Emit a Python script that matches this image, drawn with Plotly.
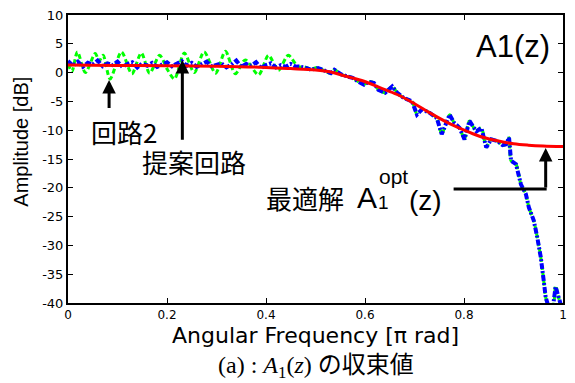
import plotly.graph_objects as go

# ---- data ----
opt_freq = [0.0, 0.1, 0.2, 0.3, 0.4, 0.45, 0.5, 0.531, 0.56, 0.598, 0.63, 0.665, 0.7, 0.731, 0.765, 0.798, 0.83, 0.865, 0.9, 0.93, 0.96, 1.0]
opt_amp = [1.3, 1.25, 1.2, 1.1, 0.9, 0.7, 0.45, 0.1, -0.6, -1.5, -2.6, -3.8, -5.4, -7.0, -8.6, -9.9, -11.0, -11.8, -12.35, -12.6, -12.75, -12.85]

c2_freq = [0.0, 0.008, 0.019, 0.035, 0.055, 0.063, 0.071, 0.085, 0.108, 0.129, 0.148, 0.165, 0.185, 0.201, 0.215, 0.235, 0.255, 0.275, 0.298, 0.318, 0.338, 0.358, 0.385, 0.405, 0.425, 0.445, 0.465,
           0.478, 0.491, 0.505, 0.518, 0.531, 0.538, 0.552, 0.565, 0.575, 0.585, 0.598, 0.608, 0.618, 0.627, 0.641, 0.655, 0.665, 0.678, 0.695, 0.705, 0.715, 0.731, 0.745, 0.755, 0.765, 0.771, 0.78, 0.791, 0.801, 0.811, 0.825, 0.835, 0.845, 0.855, 0.868, 0.878, 0.885, 0.891, 0.895, 0.905, 0.915, 0.925, 0.931, 0.941, 0.948, 0.955, 0.961, 0.965, 0.972, 0.98, 0.985, 0.991, 0.998]
c2_amp = [1.5, 0.2, 3.6, 0.0, 3.3, 2.0, 3.0, -1.1, 3.6, -0.2, 3.4, -0.1, 3.0, 0.5, -1.1, 3.4, 0.0, 3.6, -0.1, 3.7, -0.2, 2.2, -0.4, 3.0, 0.4, 3.0, 1.0,
          1.0, 0.6, 0.9, 0.3, -0.1, 0.5, -0.3, -0.7, -0.9, -1.5, -2.0, -1.6, -1.8, -3.0, -3.5, -2.4, -3.5, -4.4, -5.0, -7.2, -6.4, -7.0, -7.9, -10.6, -8.4, -7.3, -8.7, -9.6, -11.5, -8.4, -10.2, -9.6, -12.9, -11.6, -11.9, -12.6, -12.4, -11.3, -15.3, -15.9, -19.4, -21.1, -23.4, -25.7, -28.6, -32.0, -36.1, -39.0, -41.0, -40.5, -37.0, -39.0, -41.0]

prop_freq = [0.0, 0.01, 0.02, 0.03, 0.04, 0.05, 0.06, 0.07, 0.08, 0.09, 0.10, 0.11, 0.12, 0.13, 0.14, 0.15, 0.16, 0.17, 0.18, 0.19, 0.20, 0.21, 0.22, 0.23, 0.24, 0.25, 0.26, 0.27, 0.28, 0.29, 0.30, 0.31, 0.32, 0.33, 0.34, 0.35, 0.36, 0.37, 0.38, 0.39, 0.40, 0.41, 0.42, 0.43, 0.44, 0.45, 0.46,
             0.465, 0.478, 0.491, 0.505, 0.518, 0.531, 0.538, 0.552, 0.565, 0.575, 0.585, 0.598, 0.608, 0.618, 0.627, 0.641, 0.655, 0.665, 0.678, 0.695, 0.705, 0.715, 0.731, 0.745, 0.755, 0.765, 0.771, 0.78, 0.791, 0.801, 0.811, 0.825, 0.835, 0.845, 0.855, 0.868, 0.878, 0.885, 0.891, 0.895, 0.905, 0.915, 0.925, 0.931, 0.941, 0.948, 0.955, 0.961, 0.965, 0.972, 0.98, 0.985, 0.991, 0.998]
prop_amp = [2.0, 1.2, 1.9, 1.0, 1.7, 1.4, 2.1, 1.1, 1.6, 1.3, 1.9, 1.0, 1.5, 1.8, 0.9, 1.6, 1.2, 1.7, 1.0, 1.4, 1.8, 1.1, 1.5, 2.0, 1.2, 1.7, 1.0, 1.5, 1.9, 1.1, 1.3, 1.6, 0.9, 1.4, 2.1, 1.0, 1.5, 1.2, 1.8, 0.8, 1.3, 1.6, 0.9, 1.3, 1.0, 1.5, 1.0,
            1.07, 0.9, 0.5, 0.8, 0.3, -0.1, 0.5, -0.3, -0.7, -0.9, -1.5, -2.1, -1.6, -1.8, -3.0, -3.5, -2.4, -3.5, -4.4, -5.0, -7.3, -6.4, -7.0, -7.9, -10.7, -8.4, -7.3, -8.7, -9.6, -11.6, -8.4, -10.2, -9.6, -13.0, -11.6, -11.9, -12.6, -12.45, -11.3, -15.3, -15.9, -19.4, -21.1, -23.4, -25.7, -28.6, -32.0, -36.1, -39.0, -41.0, -40.5, -37.2, -39.0, -41.0]

x_ticks = [0, 0.2, 0.4, 0.6, 0.8, 1]
x_tick_labels = ["0", "0.2", "0.4", "0.6", "0.8", "1"]
y_ticks = [10, 5, 0, -5, -10, -15, -20, -25, -30, -35, -40]
y_tick_labels = ["10", "5", "0", "-5", "-10", "-15", "-20", "-25", "-30", "-35", "-40"]

fig = go.Figure()
fig.add_trace(go.Scatter(x=c2_freq, y=c2_amp, mode="lines", line=dict(color="#00ff00", width=3, dash="5px,3px", shape="spline", smoothing=0.8), showlegend=False))
fig.add_trace(go.Scatter(x=prop_freq, y=prop_amp, mode="lines", line=dict(color="#0000ff", width=4, dash="6px,2px,2px,2px"), showlegend=False))
fig.add_trace(go.Scatter(x=opt_freq, y=opt_amp, mode="lines", line=dict(color="#ff0000", width=3, shape="spline"), showlegend=False))

sans = "DejaVu Sans, Noto Sans CJK JP"
jp = "Noto Sans CJK JP"
ls = "Liberation Sans"

ann = []
# labels
ann.append(dict(x=0.899, y=4.5, xref="x", yref="y", text="A1(z)", showarrow=False, font=dict(family=ls, size=31, color="black")))
ann.append(dict(x=0.113, y=-10.2, xref="x", yref="y", text="回路2", showarrow=False, font=dict(family=jp, size=26, color="black")))
ann.append(dict(x=0.255, y=-15.4, xref="x", yref="y", text="提案回路", showarrow=False, font=dict(family=jp, size=26, color="black")))
ann.append(dict(x=0.395, y=-21.6, xref="x", yref="y", xanchor="left", text="最適解", showarrow=False, font=dict(family=jp, size=26, color="black")))
ann.append(dict(x=0.627, y=-21.6, xref="x", yref="y", xanchor="right", text="A", showarrow=False, borderpad=0, font=dict(family=ls, size=30, color="black")))
ann.append(dict(x=0.624, y=-22.6, xref="x", yref="y", xanchor="left", text="1", showarrow=False, borderpad=0, font=dict(family=ls, size=19, color="black")))
ann.append(dict(x=0.627, y=-18.0, xref="x", yref="y", xanchor="left", text="opt", showarrow=False, borderpad=0, font=dict(family=ls, size=21, color="black")))
ann.append(dict(x=0.686, y=-22.2, xref="x", yref="y", xanchor="left", text="(z)", showarrow=False, borderpad=0, font=dict(family=ls, size=28, color="black")))
# arrows
ann.append(dict(x=0.083, y=-1.3, ax=0.083, ay=-6.4, xref="x", yref="y", axref="x", ayref="y", text="", showarrow=True, arrowhead=2, arrowsize=0.9, arrowwidth=3, arrowcolor="black"))
ann.append(dict(x=0.231, y=2.2, ax=0.231, ay=-11.9, xref="x", yref="y", axref="x", ayref="y", text="", showarrow=True, arrowhead=2, arrowsize=0.9, arrowwidth=3, arrowcolor="black"))
ann.append(dict(x=0.965, y=-13.1, ax=0.965, ay=-20.2, xref="x", yref="y", axref="x", ayref="y", text="", showarrow=True, arrowhead=2, arrowsize=0.9, arrowwidth=3, arrowcolor="black"))
# axis titles (placed as annotations for exact position)
ann.append(dict(x=0.5, y=-0.113, xref="paper", yref="paper", xanchor="center", yanchor="middle", text="Angular Frequency [π rad]", showarrow=False,
                borderpad=0, font=dict(family=sans, size=22, color="black")))
ann.append(dict(x=-0.095, y=0.56, xref="paper", yref="paper", xanchor="center", yanchor="middle", textangle=-90, text="Amplitude [dB]", showarrow=False,
                font=dict(family=ls, size=20, color="black")))
# caption
ann.append(dict(x=0.5, y=-0.223, xref="paper", yref="paper", yanchor="middle", text="(a) : <i>A</i><sub>1</sub>(<i>z</i>) の収束値", showarrow=False,
                borderpad=0, font=dict(family="Liberation Serif, Noto Sans CJK JP", size=24, color="black")))

shapes = [dict(type="line", xref="x", yref="y", x0=0.779, y0=-20.2, x1=0.967, y1=-20.2, line=dict(color="black", width=3))]

fig.update_layout(
    width=575, height=383,
    margin=dict(l=68, r=8, t=13, b=80),
    paper_bgcolor="white", plot_bgcolor="white",
    annotations=ann, shapes=shapes,
    xaxis=dict(range=[0, 1], tickvals=x_ticks, ticktext=x_tick_labels, ticks="inside", ticklen=5, tickwidth=1, tickcolor="black",
               showline=True, linecolor="black", linewidth=2, mirror="ticks", showgrid=False, zeroline=False,
               tickfont=dict(family=sans, size=12, color="black")),
    yaxis=dict(range=[-40, 10], tickvals=y_ticks, ticktext=y_tick_labels, ticks="inside", ticklen=5, tickwidth=1, tickcolor="black",
               showline=True, linecolor="black", linewidth=2, mirror="ticks", showgrid=False, zeroline=False,
               tickfont=dict(family=sans, size=13, color="black")),
)

fig.write_html("out.html")
